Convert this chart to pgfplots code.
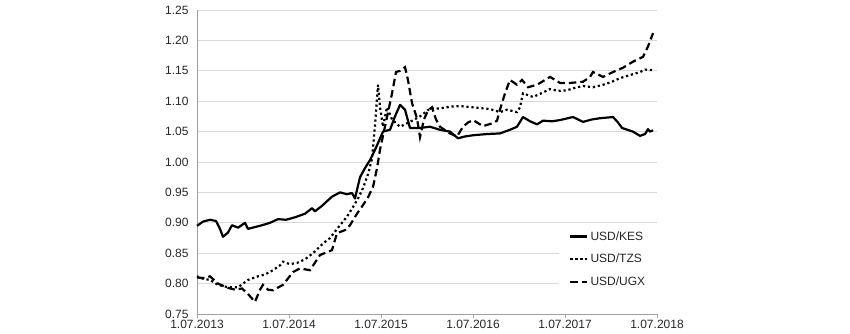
\documentclass[border=0pt]{standalone}
\usepackage{fontspec}
\setmainfont{Liberation Sans}
\usepackage{pgfplots}
\pgfplotsset{compat=1.18}
\definecolor{gridgray}{RGB}{217,217,217}
\definecolor{axgray}{RGB}{160,160,160}
\begin{document}
\begin{tikzpicture}[x=1pt,y=1pt]
\path (-197pt,-19pt) rectangle (653pt,314pt);
\begin{axis}[
  at={(0,0)}, anchor=south west,
  scale only axis, width=460pt, height=304pt,
  xmin=0, xmax=5, ymin=0.75, ymax=1.25,
  axis lines*=left,
  axis line style={axgray, line width=0.8pt},
  xtick={0,1,2,3,4,5},
  xticklabels={1.07.2013,1.07.2014,1.07.2015,1.07.2016,1.07.2017,1.07.2018},
  ytick={0.75,0.80,...,1.26},
  yticklabel style={/pgf/number format/fixed, /pgf/number format/fixed zerofill, /pgf/number format/precision=2, /pgf/number format/assume math mode=true, xshift=-1pt},
  ymajorgrids, grid style={gridgray, line width=0.8pt},
  tick align=outside,
  x tick style={axgray, line width=0.8pt}, major tick length=4pt,
  y tick style={draw=none},
  tick label style={font=\fontsize{12}{14}\selectfont, text=black!85},
  xticklabel style={yshift=1pt},
  legend style={at={(0.787,0.289)}, anchor=north west, draw=none, fill=white,
    font=\fontsize{12}{14}\selectfont, text=black!85, row sep=8.5pt, inner xsep=10pt, inner ysep=3pt},
  legend cell align=left,
  clip=false,
]
\addplot[black, line width=2.2pt, line join=round] coordinates {
(0,0.895)(0.065,0.902)(0.141,0.905)(0.207,0.903)(0.25,0.89)(0.283,0.877)(0.337,0.884)(0.380,0.896)(0.446,0.892)(0.522,0.900)(0.554,0.890)(0.630,0.893)(0.707,0.896)(0.793,0.900)(0.880,0.906)(0.967,0.905)(1.065,0.909)(1.174,0.915)(1.25,0.924)(1.283,0.919)(1.359,0.928)(1.467,0.943)(1.554,0.950)(1.630,0.947)(1.685,0.949)(1.717,0.940)(1.772,0.975)(1.826,0.990)(1.880,1.003)(1.935,1.020)(1.967,1.031)(2.022,1.050)(2.098,1.053)(2.152,1.075)(2.207,1.094)(2.261,1.086)(2.315,1.056)(2.424,1.056)(2.533,1.058)(2.641,1.053)(2.750,1.050)(2.837,1.039)(2.913,1.042)(3.0,1.044)(3.152,1.046)(3.293,1.047)(3.402,1.053)(3.478,1.058)(3.511,1.066)(3.543,1.074)(3.62,1.067)(3.696,1.062)(3.761,1.068)(3.859,1.067)(3.946,1.069)(4.087,1.074)(4.196,1.066)(4.293,1.070)(4.380,1.072)(4.522,1.074)(4.576,1.065)(4.620,1.056)(4.739,1.050)(4.815,1.043)(4.870,1.046)(4.902,1.054)(4.924,1.050)(4.957,1.052)
};
\addlegendentry{USD/KES}
\addplot[black, line width=2.2pt, dash pattern=on 2.2pt off 2.8pt] coordinates {
(0,0.812)(0.065,0.808)(0.141,0.806)(0.228,0.798)(0.337,0.794)(0.446,0.794)(0.554,0.806)(0.663,0.812)(0.739,0.815)(0.826,0.822)(0.902,0.830)(0.935,0.836)(1.011,0.832)(1.087,0.834)(1.174,0.840)(1.261,0.850)(1.370,0.866)(1.446,0.875)(1.554,0.896)(1.630,0.910)(1.696,0.926)(1.75,0.940)(1.804,0.957)(1.859,0.980)(1.902,1.005)(1.935,1.060)(1.967,1.127)(1.989,1.090)(2.022,1.058)(2.065,1.090)(2.12,1.070)(2.207,1.058)(2.315,1.066)(2.424,1.075)(2.533,1.088)(2.641,1.088)(2.75,1.091)(2.859,1.092)(3.0,1.090)(3.185,1.087)(3.293,1.082)(3.37,1.086)(3.478,1.082)(3.511,1.090)(3.543,1.113)(3.652,1.107)(3.728,1.112)(3.837,1.120)(3.924,1.117)(4.022,1.118)(4.109,1.122)(4.196,1.125)(4.304,1.123)(4.413,1.127)(4.511,1.132)(4.598,1.138)(4.707,1.143)(4.815,1.148)(4.870,1.152)(4.957,1.151)
};
\addlegendentry{USD/TZS}
\addplot[black, line width=2.2pt, dash pattern=on 7.5pt off 4pt] coordinates {
(0,0.810)(0.087,0.809)(0.141,0.812)(0.228,0.800)(0.337,0.793)(0.413,0.790)(0.489,0.792)(0.554,0.783)(0.630,0.770)(0.685,0.790)(0.717,0.798)(0.772,0.790)(0.826,0.789)(0.935,0.798)(1.043,0.819)(1.120,0.825)(1.228,0.822)(1.337,0.847)(1.467,0.855)(1.522,0.883)(1.609,0.888)(1.663,0.896)(1.739,0.915)(1.804,0.929)(1.859,0.942)(1.913,0.959)(1.957,0.990)(1.989,1.020)(2.043,1.058)(2.12,1.113)(2.163,1.148)(2.207,1.150)(2.261,1.156)(2.293,1.135)(2.337,1.097)(2.391,1.072)(2.424,1.041)(2.467,1.070)(2.511,1.085)(2.554,1.090)(2.598,1.070)(2.641,1.058)(2.75,1.047)(2.826,1.042)(2.891,1.058)(2.946,1.065)(3.0,1.069)(3.109,1.059)(3.217,1.064)(3.261,1.068)(3.293,1.086)(3.348,1.113)(3.402,1.135)(3.478,1.127)(3.533,1.135)(3.598,1.123)(3.696,1.127)(3.783,1.135)(3.837,1.140)(3.946,1.130)(4.054,1.130)(4.196,1.132)(4.272,1.140)(4.304,1.148)(4.413,1.140)(4.522,1.148)(4.630,1.155)(4.739,1.165)(4.848,1.173)(4.902,1.190)(4.957,1.212)
};
\addlegendentry{USD/UGX}
\end{axis}
\end{tikzpicture}
\end{document}
